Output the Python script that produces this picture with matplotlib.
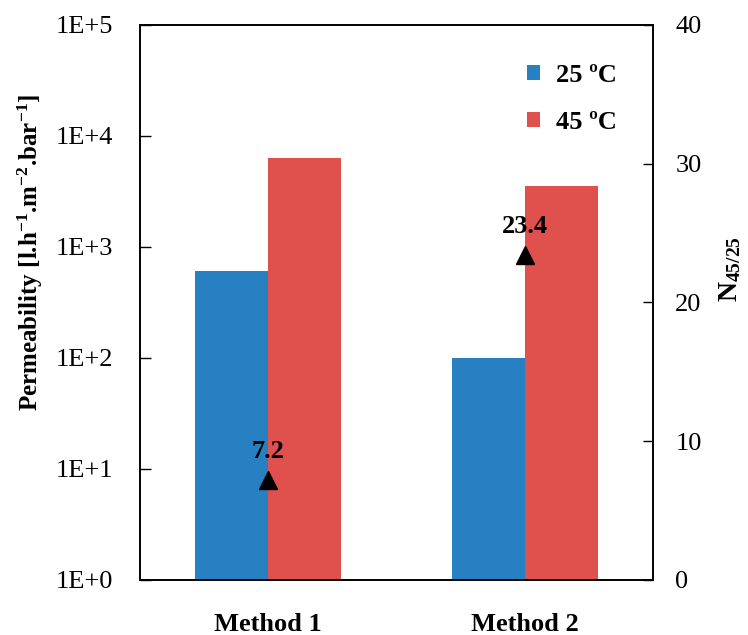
import matplotlib
matplotlib.use("Agg")
import matplotlib.pyplot as plt
from matplotlib.ticker import FixedLocator, FixedFormatter

plt.rcParams['font.family'] = ['Liberation Serif', 'DejaVu Serif']
plt.rcParams['mathtext.fontset'] = 'custom'
plt.rcParams['mathtext.rm'] = 'Liberation Serif'
plt.rcParams['mathtext.bf'] = 'Liberation Serif:bold'
plt.rcParams['mathtext.it'] = 'Liberation Serif:italic'

methods = ["Method 1", "Method 2"]
perm_25 = [600, 100]
perm_45 = [6300, 3500]
n_ratio = [7.2, 23.4]

blue = "#2680c2"
red = "#e0504d"

fig = plt.figure(figsize=(7.48, 6.35), dpi=100)
ax = fig.add_axes([0.187, 0.087, 0.686, 0.874])

x = [0, 1]
w = 0.284
ax.bar([i - w / 2 for i in x], perm_25, width=w, color=blue, label="25 ºC")
ax.bar([i + w / 2 for i in x], perm_45, width=w, color=red, label="45 ºC")

ax.set_yscale("log")
ax.set_ylim(1, 1e5)
ax.set_xlim(-0.5, 1.5)
ax.yaxis.set_major_locator(FixedLocator([1, 10, 100, 1000, 1e4, 1e5]))
ax.yaxis.set_major_formatter(FixedFormatter(["1E+0", "1E+1", "1E+2", "1E+3", "1E+4", "1E+5"]))
ax.yaxis.set_minor_locator(FixedLocator([]))
ax.tick_params(axis='y', direction='in', length=8, width=1, labelsize=19, pad=19)
ax.set_xticks(x)
ax.set_xticklabels(methods, fontsize=19, fontweight='bold')
ax.tick_params(axis='x', length=0, pad=24)
ax.set_ylabel(r"Permeability [l.h$^{\mathbf{-1}}$.m$^{\mathbf{-2}}$.bar$^{\mathbf{-1}}$]",
              fontsize=18, fontweight='bold')
ax.yaxis.set_label_coords(-0.185, 0.59)

ax2 = ax.twinx()
ax2.set_ylim(0, 40)
ax2.set_yticks([0, 10, 20, 30, 40])
ax2.tick_params(axis='y', direction='in', length=7, width=1, labelsize=19, pad=16)
ax2.plot(x, n_ratio, linestyle='none', marker='^', color='black', markersize=13)
for xi, v in zip(x, n_ratio):
    ax2.annotate(f"{v}", (xi, v), xytext=(0, 16), textcoords='offset points',
                 ha='center', va='baseline', fontsize=19, fontweight='bold')
ax2.set_ylabel(r"$\mathbf{N}_{\mathbf{45/25}}$", fontsize=20, rotation=90)
ax2.yaxis.set_label_coords(1.125, 0.56)

for a in (ax, ax2):
    for s in a.spines.values():
        s.set_linewidth(1.2)

leg = ax.legend(loc='upper right', bbox_to_anchor=(0.975, 0.972), frameon=False,
                prop={'weight': 'bold', 'size': 19}, handlelength=0.5, handleheight=0.5,
                labelspacing=0.9, handletextpad=0.6)

fig.savefig("out.png", dpi=100)
